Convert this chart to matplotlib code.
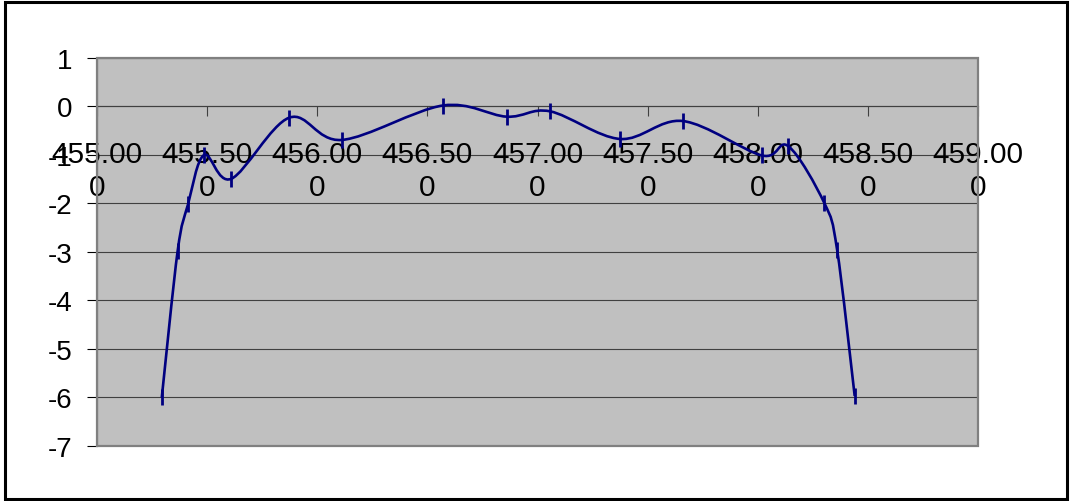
import matplotlib
matplotlib.use("Agg")
import matplotlib.pyplot as plt
from matplotlib.path import Path
from matplotlib.patches import PathPatch, Rectangle
import numpy as np

# values
x_vals = [455.294, 455.366, 455.413, 455.486, 455.610, 455.873, 456.111, 456.570,
          456.860, 457.057, 457.375, 457.660, 458.018, 458.139, 458.302, 458.360, 458.440]
y_vals = [-6.0, -2.98, -2.02, -1.0, -1.49, -0.23, -0.69, 0.02,
          -0.21, -0.10, -0.67, -0.30, -1.01, -0.82, -1.99, -2.95, -5.97]
x_ticks = [455.0, 455.5, 456.0, 456.5, 457.0, 457.5, 458.0, 458.5, 459.0]
x_tick_labels = ["455.00\n0", "455.50\n0", "456.00\n0", "456.50\n0", "457.00\n0",
                 "457.50\n0", "458.00\n0", "458.50\n0", "459.00\n0"]
y_ticks = [1, 0, -1, -2, -3, -4, -5, -6, -7]

plt.rcParams['font.family'] = ['Liberation Sans', 'DejaVu Sans']

navy = '#000080'


def smooth_path(xs, ys):
    # Excel-like smoothed line: cubic bezier segments (catmull-rom control points)
    pts = np.column_stack([xs, ys])
    verts = [pts[0]]
    codes = [Path.MOVETO]
    n = len(pts)
    for i in range(n - 1):
        p0 = pts[i - 1] if i > 0 else pts[i]
        p1 = pts[i]
        p2 = pts[i + 1]
        p3 = pts[i + 2] if i + 2 < n else pts[i + 1]
        c1 = p1 + (p2 - p0) / 6.0
        c2 = p2 - (p3 - p1) / 6.0
        verts += [c1, c2, p2]
        codes += [Path.CURVE4] * 3
    return Path(verts, codes)


fig = plt.figure(figsize=(10.71, 5.02), dpi=100)
ax = fig.add_axes([0.0906, 0.1096, 0.8226, 0.7729])
ax.set_facecolor('#C0C0C0')

ax.set_xlim(455, 459)
ax.set_ylim(-7, 1)

for y in y_ticks:
    ax.axhline(y, color='#404040', lw=0.8, zorder=1)

ax.add_patch(PathPatch(smooth_path(x_vals, y_vals), facecolor='none',
                       edgecolor=navy, lw=1.9, zorder=4))
ax.plot(x_vals, y_vals, linestyle='none', marker='|', markersize=12,
        markeredgewidth=2.0, color=navy, zorder=5)

# x axis crosses at y = 0
ax.spines['bottom'].set_position(('data', 0))
ax.spines['bottom'].set_color('#404040')
ax.spines['bottom'].set_linewidth(0.8)
ax.spines['top'].set_visible(False)
ax.spines['right'].set_visible(False)
ax.spines['left'].set_color('#606060')
ax.spines['left'].set_linewidth(0.8)
ax.add_patch(Rectangle((0, 0), 1, 1, transform=ax.transAxes, fill=False,
                       edgecolor='#808080', lw=1.6, clip_on=False, zorder=3))

ax.set_xticks(x_ticks)
ax.set_xticklabels(x_tick_labels, fontsize=21.5, linespacing=1.22, multialignment='center')
ax.set_yticks(y_ticks)
ax.set_yticklabels([str(v) for v in y_ticks], fontsize=20)
ax.tick_params(axis='x', direction='out', length=7, width=0.8, color='#404040', pad=17)
ax.tick_params(axis='y', direction='out', length=7, width=0.8, color='black', pad=11)
ax.xaxis.set_zorder(2)

fig.patches.append(Rectangle((5 / 1071, 2 / 502), 1062 / 1071, 497 / 502,
                             transform=fig.transFigure, fill=False,
                             edgecolor='black', lw=2.2))

fig.savefig('out.png', dpi=100)
